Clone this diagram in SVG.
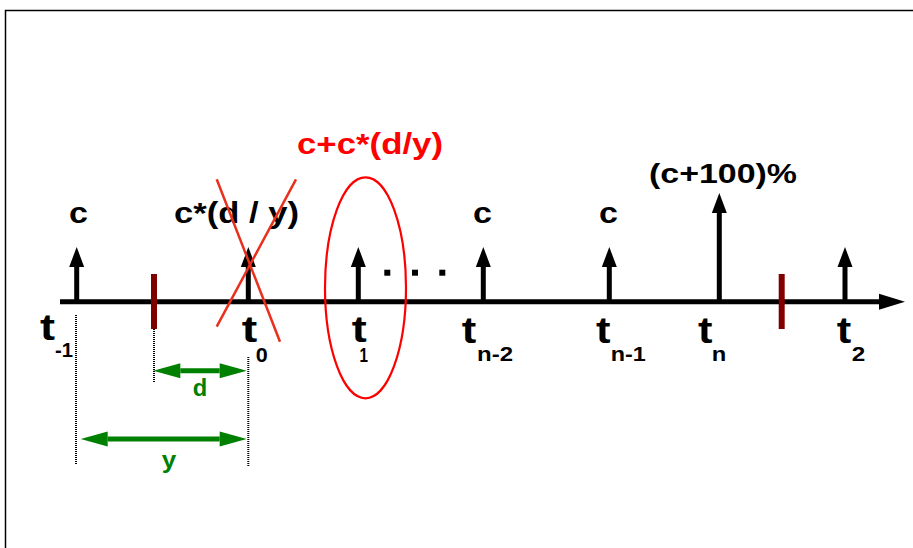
<svg xmlns="http://www.w3.org/2000/svg" width="913" height="548" viewBox="0 0 913 548">
<style>
text{font-family:"Liberation Sans",Arial,sans-serif;font-weight:bold}
.lbl{font-size:29px;fill:#000}
.t{font-size:37px;fill:#000}
.sub{font-size:21px;fill:#000}
.g{font-size:23px;fill:#008000}
.shaft{stroke:#000;stroke-width:5;fill:none}
.gl{stroke:#008000;stroke-width:5;fill:none}
.dot{stroke:#000;stroke-width:2;stroke-dasharray:1 1;fill:none}
.cut{stroke:#800000;stroke-width:6}
.red{stroke:#e8301c;stroke-width:2.5;fill:none}
</style>
<defs>
<marker id="ah" markerUnits="userSpaceOnUse" markerWidth="20" markerHeight="15" refX="0" refY="7.5" orient="auto" overflow="visible"><path d="M0,0 L20,7.5 L0,15 Z" fill="#000"/></marker>
<marker id="axh" markerUnits="userSpaceOnUse" markerWidth="26" markerHeight="16" refX="0" refY="8" orient="auto" overflow="visible"><path d="M0,0 L26,8 L0,16 Z" fill="#000"/></marker>
<marker id="gh" markerUnits="userSpaceOnUse" markerWidth="27" markerHeight="15" refX="0" refY="7.5" orient="auto-start-reverse" overflow="visible"><path d="M0,0 L27,7.5 L0,15 Z" fill="#008000"/></marker>
</defs>
<path d="M5.5,548 V10.5 H913" stroke="#000" stroke-width="1.5" fill="none"/>
<g id="connectors">
<line id="axis" class="shaft" x1="60" y1="301.7" x2="879" y2="301.7" marker-end="url(#axh)"/>
<line class="dot" x1="76" y1="315" x2="76" y2="464"/>
<line class="dot" x1="154" y1="329" x2="154" y2="383"/>
<line class="dot" x1="248.3" y1="357" x2="248.3" y2="466"/>
<line id="arrow-d" class="gl" x1="180.3" y1="370.7" x2="219.7" y2="370.7" marker-start="url(#gh)" marker-end="url(#gh)"/>
<line id="arrow-y" class="gl" x1="107.7" y1="439" x2="219.7" y2="439" marker-start="url(#gh)" marker-end="url(#gh)"/>
</g>
<g id="cut-left"><line class="cut" x1="154" y1="274" x2="154" y2="329"/></g>
<g id="cut-right"><line class="cut" x1="781.7" y1="274" x2="781.7" y2="329"/></g>
<g id="t-1">
<line class="shaft" x1="76.7" y1="301.7" x2="76.7" y2="267" marker-end="url(#ah)"/>
<text class="lbl" x="69" y="223" textLength="19" lengthAdjust="spacingAndGlyphs">c</text>
<text class="t" x="40" y="340" textLength="15" lengthAdjust="spacingAndGlyphs">t</text>
<text class="sub" x="55" y="356.7" textLength="18" lengthAdjust="spacingAndGlyphs">-1</text>
</g>
<g id="t0">
<line class="shaft" x1="248.3" y1="301.7" x2="248.3" y2="267" marker-end="url(#ah)"/>
<text class="lbl" x="174" y="223" textLength="125" lengthAdjust="spacingAndGlyphs">c*(d / y)</text>
<text class="t" x="241.7" y="341.7" textLength="15.5" lengthAdjust="spacingAndGlyphs">t</text>
<text class="sub" x="255.7" y="361.7" textLength="12" lengthAdjust="spacingAndGlyphs">0</text>
<line class="red" x1="216.7" y1="179.3" x2="280" y2="341.7"/>
<line class="red" x1="296" y1="179.3" x2="216.7" y2="326.7"/>
</g>
<g id="t1">
<line class="shaft" x1="358.3" y1="301.7" x2="358.3" y2="267" marker-end="url(#ah)"/>
<text x="297" y="154" font-size="29" fill="#ff0000" textLength="146" lengthAdjust="spacingAndGlyphs">c+c*(d/y)</text>
<ellipse cx="365.5" cy="287.8" rx="40.5" ry="110.5" fill="none" stroke="#ff0000" stroke-width="2.2"/>
<text class="t" x="351.7" y="341.7" textLength="15" lengthAdjust="spacingAndGlyphs">t</text>
<text class="sub" x="359.5" y="361.7" textLength="8.5" lengthAdjust="spacingAndGlyphs">1</text>
</g>
<g id="ellipsis">
<rect x="384.3" y="269.7" width="6" height="6" fill="#000"/>
<rect x="412" y="269.7" width="6" height="6" fill="#000"/>
<rect x="439.3" y="269.7" width="6" height="6" fill="#000"/>
</g>
<g id="tn-2">
<line class="shaft" x1="483.3" y1="301.7" x2="483.3" y2="267" marker-end="url(#ah)"/>
<text class="lbl" x="473" y="223" textLength="19" lengthAdjust="spacingAndGlyphs">c</text>
<text class="t" x="461.7" y="343" textLength="14.5" lengthAdjust="spacingAndGlyphs">t</text>
<text class="sub" x="477" y="360.7" textLength="36" lengthAdjust="spacingAndGlyphs">n-2</text>
</g>
<g id="tn-1">
<line class="shaft" x1="609.3" y1="301.7" x2="609.3" y2="267" marker-end="url(#ah)"/>
<text class="lbl" x="599" y="223" textLength="19" lengthAdjust="spacingAndGlyphs">c</text>
<text class="t" x="596" y="343" textLength="14.5" lengthAdjust="spacingAndGlyphs">t</text>
<text class="sub" x="610.7" y="360.7" textLength="35" lengthAdjust="spacingAndGlyphs">n-1</text>
</g>
<g id="tn">
<line class="shaft" x1="719.3" y1="301.7" x2="719.3" y2="213" marker-end="url(#ah)"/>
<text x="649" y="183" font-size="27" fill="#000" textLength="148" lengthAdjust="spacingAndGlyphs">(c+100)%</text>
<text class="t" x="698" y="343" textLength="14.5" lengthAdjust="spacingAndGlyphs">t</text>
<text class="sub" x="711.7" y="360.7" textLength="14.5" lengthAdjust="spacingAndGlyphs">n</text>
</g>
<g id="t2">
<line class="shaft" x1="845" y1="301.7" x2="845" y2="267" marker-end="url(#ah)"/>
<text class="t" x="836.7" y="343" textLength="14.5" lengthAdjust="spacingAndGlyphs">t</text>
<text class="sub" x="851.7" y="360.7" textLength="13.5" lengthAdjust="spacingAndGlyphs">2</text>
</g>
<g id="label-d"><text class="g" x="192.7" y="396" textLength="14.5" lengthAdjust="spacingAndGlyphs">d</text></g>
<g id="label-y"><text class="g" x="161.7" y="468" textLength="14.5" lengthAdjust="spacingAndGlyphs">y</text></g>
</svg>
